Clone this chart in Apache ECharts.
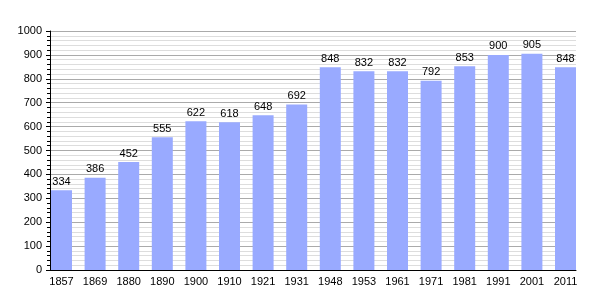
<!DOCTYPE html>
<html><head><meta charset="utf-8">
<script src="https://cdn.jsdelivr.net/npm/echarts@6/dist/echarts.min.js"></script>
<style>html,body{margin:0;padding:0;background:#fff}#c{width:605px;height:300px}</style>
</head><body><div id="c"></div>
<script>
const years = ['1857','1869','1880','1890','1900','1910','1921','1931','1948','1953','1961','1971','1981','1991','2001','2011'];
const population = [334,386,452,555,622,618,648,692,848,832,832,792,853,900,905,848];
const yTicks = [0,100,200,300,400,500,600,700,800,900,1000];

const font = 'Liberation Sans, Arial';
const chart = echarts.init(document.getElementById('c'), null, {renderer:'canvas'});
chart.setOption({
  animation:false,
  backgroundColor:'#fff',
  grid:[
    {left:50,right:29,top:31,bottom:30,containLabel:false},
    {left:44.7,right:22.7,top:31,bottom:30,containLabel:false}
  ],
  xAxis:[
    {gridIndex:0,type:'category',data:years,
      axisLine:{lineStyle:{color:'#000',width:1}},
      axisTick:{show:false},axisLabel:{show:false},splitLine:{show:false}},
    {gridIndex:1,type:'category',data:years,
      axisLine:{show:false},axisTick:{show:false},
      axisLabel:{color:'#000',fontSize:11,fontFamily:font,margin:6},
      splitLine:{show:false}}
  ],
  yAxis:[
    {gridIndex:0,type:'value',min:yTicks[0],max:yTicks[yTicks.length-1],interval:100,
      axisLine:{show:true,lineStyle:{color:'#000',width:1}},
      axisTick:{show:true,length:4,lineStyle:{color:'#000'}},
      minorTick:{show:true,splitNumber:5,length:3,lineStyle:{color:'#000'}},
      axisLabel:{color:'#000',fontSize:11,fontFamily:font,margin:8,formatter:v=>String(v)},
      splitLine:{show:true,lineStyle:{color:'#aaa',width:1}},
      minorSplitLine:{show:true,lineStyle:{color:'#ddd',width:1}}},
    {gridIndex:1,type:'value',min:yTicks[0],max:yTicks[yTicks.length-1],interval:100,show:false,
      splitLine:{show:false}}
  ],
  series:[{type:'bar',xAxisIndex:1,yAxisIndex:1,data:population,barWidth:21,
    itemStyle:{color:'#99aaff'},
    label:{show:true,position:'top',color:'#000',fontSize:11,fontFamily:font,distance:3}}]
});
</script></body></html>
